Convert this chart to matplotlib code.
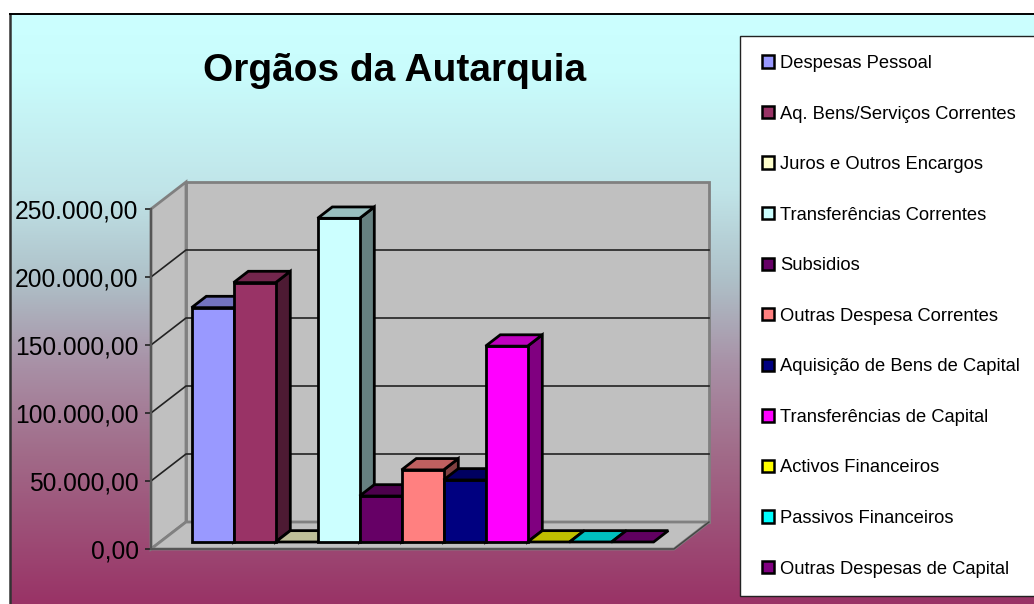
import numpy as np
import matplotlib
matplotlib.use('Agg')
import matplotlib.pyplot as plt
from matplotlib.colors import LinearSegmentedColormap, to_rgb
from matplotlib.patches import Patch, Polygon, Rectangle

W, H = 1034, 604
plt.rcParams['font.family'] = ['Liberation Sans', 'DejaVu Sans']

title = 'Orgãos da Autarquia'
categories = ['Despesas Pessoal', 'Aq. Bens/Serviços Correntes', 'Juros e Outros Encargos',
              'Transferências Correntes', 'Subsidios', 'Outras Despesa Correntes',
              'Aquisição de Bens de Capital', 'Transferências de Capital',
              'Activos Financeiros', 'Passivos Financeiros', 'Outras Despesas de Capital']
values = [172300, 190700, 0, 238000, 33800, 53000, 45600, 144000, 0, 0, 0]
colors = ['#9999FF', '#993366', '#FFFFCC', '#CCFFFF', '#660066', '#FF8080',
          '#000080', '#FF00FF', '#FFFF00', '#00FFFF', '#800080']
yticks = [0, 50000, 100000, 150000, 200000, 250000]
ytick_labels = ['0,00', '50.000,00', '100.000,00', '150.000,00', '200.000,00', '250.000,00']
bg_stops = [(0, '#CCFFFF'), (0.1, '#C9FCFC'), (0.3, '#C0E4E8'), (0.45, '#AEC0C8'),
            (0.5, '#ACB0BC'), (0.6, '#A88FA5'), (0.75, '#A16A88'), (1, '#993366')]

# oblique depth of the fake 3d box, in data units
px_x = 1 / 42
px_y = 50000 / 68
depth_x = 35 * px_x
depth_y = 27 * px_y
xmax = 523 * px_x
bar_start = 0.75
d_front, d_back = 0.26, 0.68


def proj(x, v, d):
    return (x + d * depth_x, v + d * depth_y)


def shade(c, f):
    return tuple(f * k for k in to_rgb(c))


fig = plt.figure(figsize=(W / 100, H / 100), dpi=100, facecolor='white')

# background gradient
bg = fig.add_axes([10 / W, 0, (W - 10) / W, 590 / H])
cmap = LinearSegmentedColormap.from_list('bg', bg_stops)
bg.imshow(np.linspace(0, 1, 256).reshape(-1, 1), cmap=cmap, aspect='auto', extent=[0, 1, 0, 1])
bg.set_xticks([])
bg.set_yticks([])
for s in ['right', 'bottom']:
    bg.spines[s].set_visible(False)
bg.spines['top'].set_linewidth(1.4)
bg.spines['left'].set_linewidth(1.8)
bg.spines['left'].set_color('#333333')

# legend box
fig.add_artist(Rectangle((740 / W, 1 - 596 / H), 300 / W, 560 / H, transform=fig.transFigure,
                         fc='white', ec='#222222', lw=1.0))

ax = fig.add_axes([151 / W, 1 - 549 / H, 523 / W, 340 / H])
ax.set_xlim(0, xmax)
ax.set_ylim(0, 250000)
ax.patch.set_visible(False)

wall = '#C0C0C0'
edge = '#808080'
top = yticks[-1]
# back wall, side wall and floor
ax.add_patch(Polygon([proj(0, 0, 1), proj(xmax, 0, 1), proj(xmax, top, 1), proj(0, top, 1)],
                     fc=wall, ec=edge, lw=2, clip_on=False, zorder=1))
ax.add_patch(Polygon([proj(0, 0, 0), proj(0, 0, 1), proj(0, top, 1), proj(0, top, 0)],
                     fc=wall, ec=edge, lw=2, clip_on=False, zorder=1))
ax.add_patch(Polygon([proj(0, 0, 0), proj(xmax, 0, 0), proj(xmax, 0, 1), proj(0, 0, 1)],
                     fc=wall, ec=edge, lw=2, clip_on=False, zorder=1))
ax.plot(*zip(proj(0, 0, 0), proj(xmax, 0, 0), proj(xmax, 0, 1)), color='#444444', lw=1,
        clip_on=False, zorder=2)

for t in yticks[1:-1]:
    ax.plot(*zip(proj(0, t, 0), proj(0, t, 1), proj(xmax, t, 1)), color='#222222', lw=1.2,
            clip_on=False, zorder=2)

# bars, left to right so each front covers the previous side face
for i, (v, c) in enumerate(zip(values, colors)):
    x0 = bar_start + i
    x1 = x0 + 1
    common = dict(ec='black', lw=2, clip_on=False, zorder=3 + i * 0.1, joinstyle='miter')
    if v > 0:
        ax.add_patch(Polygon([proj(x1, 0, d_front), proj(x1, 0, d_back), proj(x1, v, d_back), proj(x1, v, d_front)],
                             fc=shade(c, 0.5), **common))
        ax.add_patch(Polygon([proj(x0, 0, d_front), proj(x1, 0, d_front), proj(x1, v, d_front), proj(x0, v, d_front)],
                             fc=c, **common))
    ax.add_patch(Polygon([proj(x0, v, d_front), proj(x1, v, d_front), proj(x1, v, d_back), proj(x0, v, d_back)],
                         fc=shade(c, 0.75), **common))

ax.set_xticks([])
ax.set_yticks(yticks)
ax.set_yticklabels(ytick_labels)
ax.tick_params(axis='y', length=4, width=1.2, color='#222222', labelsize=17.7, pad=5, labelcolor='black')
for s in ['top', 'right', 'bottom']:
    ax.spines[s].set_visible(False)
ax.spines['left'].set_color('#555555')
ax.spines['left'].set_linewidth(1.6)

fig.text(395 / W, 1 - 71 / H, title, ha='center', va='center', fontsize=28, fontweight='bold')

handles = [Patch(fc=c, ec='black', lw=1.8) for c in colors]
fig.legend(handles, categories, loc='upper left', bbox_to_anchor=(762 / W, 1 - 55 / H),
           frameon=False, fontsize=13.2, borderpad=0, borderaxespad=0, handlelength=0.66,
           handleheight=0.66, handletextpad=0.32, labelspacing=1.83)

fig.savefig('out.png', dpi=100)
